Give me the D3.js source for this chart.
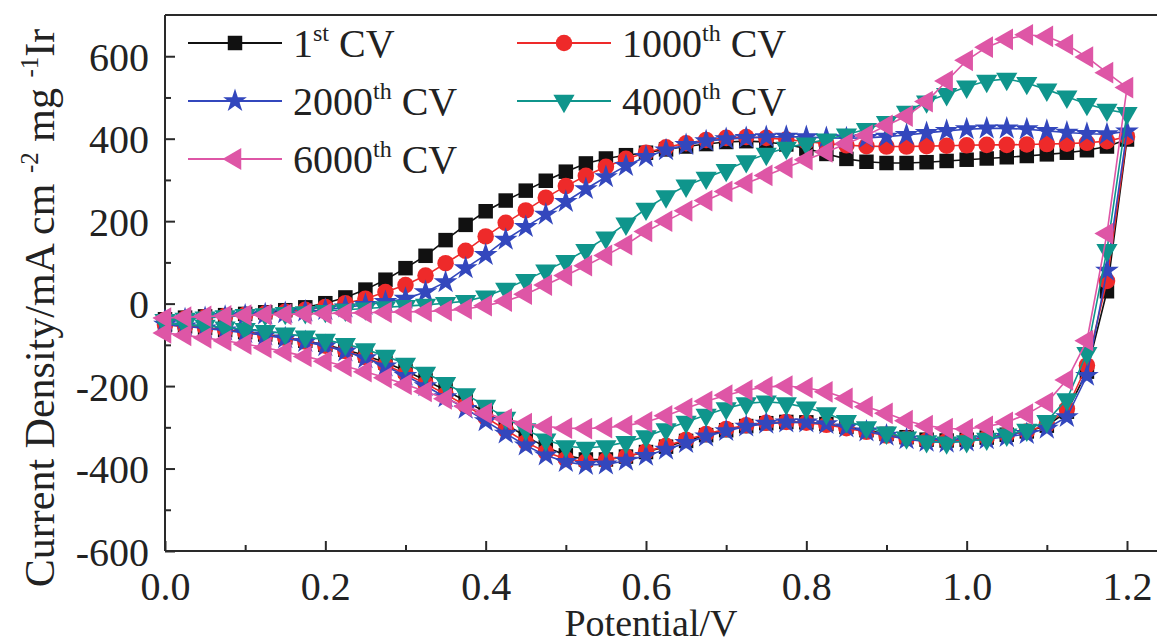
<!DOCTYPE html>
<html>
<head>
<meta charset="utf-8">
<script src="https://cdn.jsdelivr.net/npm/d3@7"></script>
<style>
  html, body { margin: 0; padding: 0; background: #fff; }
  svg { display: block; }
  text { font-family: "Liberation Serif", "Times New Roman", serif; fill: #222; }
</style>
</head>
<body>
<svg id="chart" width="1157" height="644"></svg>
<script>
// Potential sweep (V), anodic direction 0 -> 1.2 V
const potential = [
  0.000, 0.025, 0.050, 0.075, 0.100, 0.125, 0.150, 0.175,
  0.200, 0.225, 0.250, 0.275, 0.300, 0.325, 0.350, 0.375,
  0.400, 0.425, 0.450, 0.475, 0.500, 0.525, 0.550, 0.575,
  0.600, 0.625, 0.650, 0.675, 0.700, 0.725, 0.750, 0.775,
  0.800, 0.825, 0.850, 0.875, 0.900, 0.925, 0.950, 0.975,
  1.000, 1.025, 1.050, 1.075, 1.100, 1.125, 1.150, 1.175,
  1.200
];

// Current density (mA cm^-2 mg^-1 Ir), anodic sweep, one value per potential
const cv1Anodic = [
  -38, -34, -31, -28, -25, -21, -16, -9,
  1, 15, 34, 58, 86, 116, 154, 191,
  224, 250, 274, 298, 320, 340, 352, 360,
  366, 374, 381, 387, 392, 394, 392, 386,
  376, 363, 351, 344, 341, 341, 343, 346,
  349, 352, 355, 358, 362, 366, 372, 381,
  398
];
const cv1000Anodic = [
  -40, -36, -33, -30, -27, -24, -20, -15,
  -8, 1, 12, 28, 45, 68, 98, 128,
  163, 196, 226, 257, 285, 310, 332, 351,
  366, 379, 389, 397, 402, 404, 402, 398,
  393, 388, 384, 382, 381, 381, 382, 383,
  384, 385, 385, 386, 387, 388, 390, 394,
  405
];
const cv2000Anodic = [
  -42, -38, -35, -32, -29, -26, -23, -19,
  -15, -9, -3, 4, 12, 28, 52, 86,
  118, 155, 186, 216, 247, 278, 307, 334,
  356, 372, 385, 394, 399, 402, 404, 405,
  404, 402, 401, 402, 405, 409, 414, 419,
  423, 425, 425, 423, 419, 415, 412, 411,
  418
];
const cv4000Anodic = [
  -40, -37, -34, -31, -28, -26, -23, -21,
  -18, -15, -12, -9, -6, -3, 1, 6,
  17, 36, 57, 80, 103, 130, 160, 194,
  230, 260, 286, 305, 324, 345, 363, 378,
  388, 398, 410, 423, 440, 465, 490, 508,
  526, 540, 545, 535, 519, 502, 484, 470,
  462
];
const cv6000Anodic = [
  -35, -33, -31, -30, -28, -27, -26, -25,
  -24, -23, -22, -21, -20, -19, -17, -13,
  -5, 6, 23, 45, 68, 92, 117, 143,
  175, 200, 225, 250, 272, 292, 311, 330,
  349, 368, 388, 408, 432, 455, 490, 540,
  590, 622, 641, 652, 648, 628, 598, 560,
  524
];

// Cathodic sweep, one value per potential from 1.175 V back down to 0 V
const cv1Cathodic = [
  30, -165, -262, -296, -310, -318, -325, -330,
  -332, -330, -324, -316, -307, -299, -292, -288,
  -287, -290, -297, -307, -319, -333, -347, -360,
  -371, -378, -378, -368, -348, -322, -293, -264,
  -236, -210, -186, -163, -143, -126, -112, -100,
  -90, -82, -75, -69, -64, -59, -55, -51
];
const cv1000Cathodic = [
  55, -150, -255, -294, -310, -318, -325, -330,
  -333, -332, -327, -320, -311, -302, -294, -289,
  -287, -289, -295, -304, -316, -330, -345, -359,
  -371, -380, -383, -377, -360, -336, -306, -276,
  -247, -220, -194, -170, -149, -130, -115, -102,
  -92, -83, -76, -70, -64, -59, -55, -51
];
const cv2000Cathodic = [
  80, -175, -275, -303, -316, -323, -329, -334,
  -337, -335, -329, -320, -310, -300, -292, -288,
  -288, -291, -298, -309, -322, -338, -354, -369,
  -381, -390, -391, -384, -368, -344, -315, -285,
  -255, -227, -200, -175, -152, -132, -116, -103,
  -93, -84, -77, -71, -65, -60, -55, -51
];
const cv4000Cathodic = [
  130, -120, -232, -285, -306, -318, -328, -334,
  -337, -334, -325, -313, -300, -285, -266, -252,
  -242, -238, -242, -254, -270, -287, -305, -322,
  -336, -346, -350, -346, -330, -305, -277, -248,
  -220, -193, -168, -146, -127, -111, -98, -88,
  -80, -73, -67, -62, -58, -54, -51, -48
];
const cv6000Cathodic = [
  170, -90, -185, -240, -268, -288, -298, -304,
  -303, -296, -284, -266, -250, -230, -214, -204,
  -200, -202, -210, -222, -237, -254, -272, -287,
  -296, -301, -303, -302, -298, -291, -280, -266,
  -249, -231, -213, -196, -180, -165, -152, -140,
  -128, -117, -107, -98, -90, -83, -77, -71
];

const seriesNames = ["1st", "1000th", "2000th", "4000th", "6000th"];
const seriesOrdinal = ["1", "1000", "2000", "4000", "6000"];
const seriesSuffix = ["st", "th", "th", "th", "th"];
const seriesColors = ["#111111", "#ee2a2a", "#3347bd", "#0f958c", "#de56a6"];
const seriesShapes = ["square", "circle", "star", "triangleDown", "triangleLeft"];

const xMajorTicks = [0.0, 0.2, 0.4, 0.6, 0.8, 1.0, 1.2];
const xTickLabels = ["0.0", "0.2", "0.4", "0.6", "0.8", "1.0", "1.2"];
const xMinorTicks = [0.1, 0.3, 0.5, 0.7, 0.9, 1.1];
const yMajorTicks = [-600, -400, -200, 0, 200, 400, 600];
const yTickLabels = ["-600", "-400", "-200", "0", "200", "400", "600"];
const yMinorTicks = [-500, -300, -100, 100, 300, 500];

// ---- layout ----
const svg = d3.select("#chart");
const plotLeft = 165, plotTop = 15, plotBottom = 551;

const x = d3.scaleLinear().domain([0, 1.2]).range([plotLeft, 1127]);
const y = d3.scaleLinear().domain([-600, 700]).range([plotBottom, plotTop]);
const xRight = x(1.25);

const axisColor = "#2a2a2a";

// frame (right edge lies outside the visible area)
const frame = svg.append("g").attr("fill", "none").attr("stroke", axisColor).attr("stroke-width", 2);
frame.append("line").attr("x1", plotLeft).attr("x2", xRight).attr("y1", plotTop).attr("y2", plotTop);
frame.append("line").attr("x1", plotLeft).attr("x2", xRight).attr("y1", plotBottom).attr("y2", plotBottom);
frame.append("line").attr("x1", plotLeft).attr("x2", plotLeft).attr("y1", plotTop).attr("y2", plotBottom);
frame.append("line").attr("x1", xRight).attr("x2", xRight).attr("y1", plotTop).attr("y2", plotBottom);

function styleAxis(g) {
  g.select(".domain").remove();
  g.selectAll(".tick line").attr("stroke", axisColor).attr("stroke-width", 2);
  g.selectAll(".tick text").attr("font-size", 40).attr("fill", "#222")
    .attr("font-family", "Liberation Serif, Times New Roman, serif");
}

// bottom axis, ticks pointing inward
svg.append("g").attr("transform", `translate(0,${plotBottom})`)
  .call(d3.axisBottom(x).tickValues(xMajorTicks).tickSize(-10).tickSizeOuter(0)
    .tickFormat((d, i) => xTickLabels[i]))
  .call(styleAxis)
  .call(g => g.selectAll(".tick text").attr("y", 49).attr("dy", 0));
svg.append("g").attr("transform", `translate(0,${plotBottom})`)
  .call(d3.axisBottom(x).tickValues(xMinorTicks).tickSize(-6).tickSizeOuter(0).tickFormat(""))
  .call(styleAxis);

// left axis, ticks pointing inward
svg.append("g").attr("transform", `translate(${plotLeft},0)`)
  .call(d3.axisLeft(y).tickValues(yMajorTicks).tickSize(-10).tickSizeOuter(0)
    .tickFormat((d, i) => yTickLabels[i]))
  .call(styleAxis)
  .call(g => g.selectAll(".tick text").attr("x", -16).attr("dy", "0.35em"));
svg.append("g").attr("transform", `translate(${plotLeft},0)`)
  .call(d3.axisLeft(y).tickValues(yMinorTicks).tickSize(-6).tickSizeOuter(0).tickFormat(""))
  .call(styleAxis);

// axis titles
svg.append("text").attr("x", 651).attr("y", 636).attr("text-anchor", "middle")
  .attr("font-size", 38).text("Potential/V");

const yTitle = svg.append("text")
  .attr("transform", "translate(54,308) rotate(-90)")
  .attr("text-anchor", "middle").attr("font-size", 42);
yTitle.append("tspan").text("Current Density/mA cm ");
yTitle.append("tspan").attr("font-size", 25).attr("dy", -16).text("-2");
yTitle.append("tspan").attr("dy", 16).text("  mg ");
yTitle.append("tspan").attr("font-size", 25).attr("dy", -16).text("-1");
yTitle.append("tspan").attr("dy", 16).text("Ir");

// ---- marker shapes ----
const symbolGen = {
  square: d3.symbol(d3.symbolSquare, 210)(),
  circle: d3.symbol(d3.symbolCircle, 215)(),
  star: d3.symbol(d3.symbolStar, 175)(),
  triangleDown: d3.symbol(d3.symbolTriangle, 195)(),
  triangleLeft: d3.symbol(d3.symbolTriangle, 205)()
};
const symbolRotation = { square: 0, circle: 0, star: 0, triangleDown: 180, triangleLeft: -90 };

function drawMarker(g, shape, px, py, color) {
  g.append("path")
    .attr("d", symbolGen[shape])
    .attr("transform", `translate(${px},${py}) rotate(${symbolRotation[shape]})`)
    .attr("fill", color);
}

// ---- series ----
const anodicSets = [cv1Anodic, cv1000Anodic, cv2000Anodic, cv4000Anodic, cv6000Anodic];
const cathodicSets = [cv1Cathodic, cv1000Cathodic, cv2000Cathodic, cv4000Cathodic, cv6000Cathodic];
const cathodicPotential = potential.slice(0, potential.length - 1).reverse();

const line = d3.line().x(d => x(d.v)).y(d => y(d.j));
const plot = svg.append("g");

seriesNames.forEach((name, k) => {
  const pts = potential.map((v, i) => ({ v, j: anodicSets[k][i] }))
    .concat(cathodicPotential.map((v, i) => ({ v, j: cathodicSets[k][i] })));
  const g = plot.append("g").attr("class", "series-" + name);
  g.append("path").datum(pts).attr("d", line)
    .attr("fill", "none").attr("stroke", seriesColors[k]).attr("stroke-width", 1.6);
  pts.forEach(p => drawMarker(g, seriesShapes[k], x(p.v), y(p.j), seriesColors[k]));
});

// ---- legend ----
const legendSlots = [
  { lx: 188, ly: 43 },   // 1st
  { lx: 517, ly: 43 },   // 1000th
  { lx: 188, ly: 101 },  // 2000th
  { lx: 517, ly: 101 },  // 4000th
  { lx: 188, ly: 159 }   // 6000th
];
const legend = svg.append("g");
seriesNames.forEach((name, k) => {
  const s = legendSlots[k];
  const g = legend.append("g");
  g.append("line").attr("x1", s.lx).attr("x2", s.lx + 94).attr("y1", s.ly).attr("y2", s.ly)
    .attr("stroke", seriesColors[k]).attr("stroke-width", 2);
  drawMarker(g, seriesShapes[k], s.lx + 47, s.ly, seriesColors[k]);
  const t = g.append("text").attr("x", s.lx + 105).attr("y", s.ly + 14).attr("font-size", 40);
  t.append("tspan").text(seriesOrdinal[k]);
  t.append("tspan").attr("font-size", 24).attr("dy", -16).text(seriesSuffix[k]);
  t.append("tspan").attr("dy", 16).text(" CV");
});
</script>
</body>
</html>
